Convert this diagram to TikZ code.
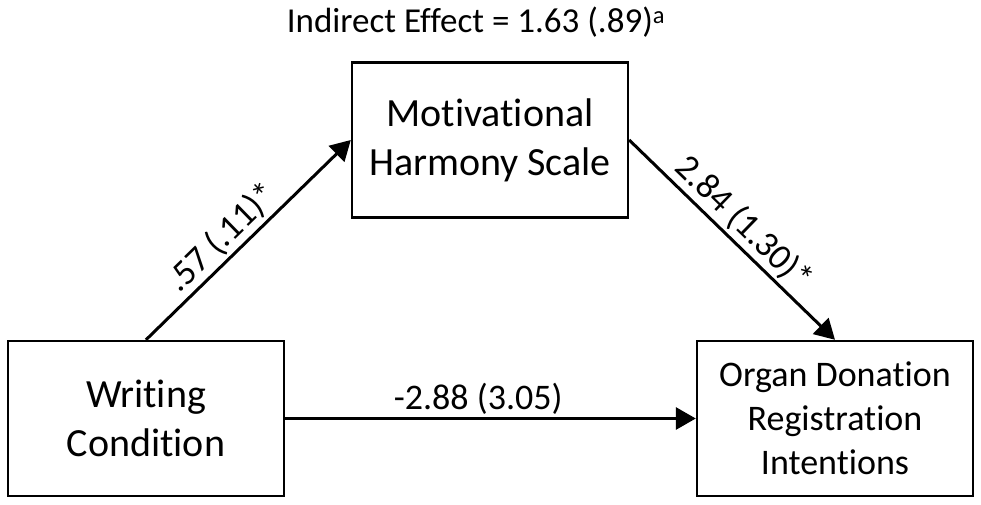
\documentclass[tikz,border=0pt]{standalone}
\usepackage{fontspec}
\setmainfont{Carlito}[Ligatures={NoCommon}]
\usetikzlibrary{arrows.meta}

\begin{document}
\begin{tikzpicture}[x=1pt, y=1pt, node distance=689pt]
        \tikzstyle{box} = [rectangle, minimum width=276pt, minimum height=155pt, inner sep=0pt, text centered, draw=black, line width=2.4pt, align=center]
        \tikzstyle{bigtext} = [font=\fontsize{40}{49}\selectfont]
        \tikzstyle{smalltext} = [font=\fontsize{36}{44}\selectfont]
        \tikzstyle{coef} = [font=\fontsize{36}{44}\selectfont, inner sep=3pt]
        \tikzstyle{arrow} = [line width=3pt, -{Triangle[length=20pt, width=22pt]}]

        \useasboundingbox (0,0) rectangle (981,504);

        \node (writing) [box, bigtext] at (146,85.5) {Writing\\Condition};
        \node (organ) [box, smalltext, right of=writing] {Organ Donation\\Registration\\Intentions};
        \node (harmony) [box, bigtext, right of=writing, xshift=-345pt, yshift=278.5pt] {Motivational\\Harmony Scale};
        \node (indirect) [anchor=base, font=\fontsize{35}{42}\selectfont] at (476,471) {Indirect Effect = 1.63 (.89)\textsuperscript{a}};

        \draw [arrow] (writing.north) -- node[coef, sloped, above, pos=0.44] {.57 (.11)*} (harmony.west);
        \draw [arrow] (harmony.east) -- node[coef, sloped, above, pos=0.49] {2.84 (1.30)*} (organ.north);
        \draw [arrow] (writing.east) -- node[coef, above, pos=0.47] {-2.88 (3.05)} (organ.west);
    \end{tikzpicture}
\end{document}
